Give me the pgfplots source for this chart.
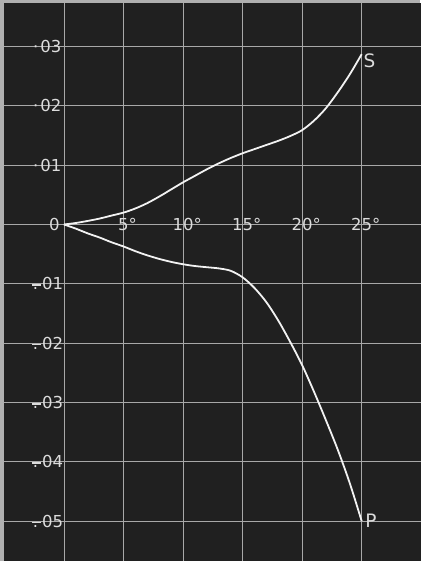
\documentclass[border=0pt]{standalone}
\usepackage{fontspec}
\setmainfont{DejaVu Sans}
\usepackage{pgfplots}
\pgfplotsset{compat=1.18}
\definecolor{bg}{HTML}{202020}
\definecolor{gridc}{HTML}{A8A8A8}
\definecolor{curvec}{HTML}{F2F2F2}
\definecolor{framec}{HTML}{B0B0B0}
\definecolor{labc}{HTML}{DCDCDC}
\newcommand{\neglab}[1]{\rlap{\rule[4.0pt]{9.5pt}{1.6pt}}\kern1pt.\kern4pt #1}
\begin{document}
\begin{tikzpicture}
\fill[framec] (0,0) rectangle (420pt,561pt);
\begin{axis}[
  at={(4pt,0pt)}, anchor=south west,
  scale only axis, width=420pt, height=558pt,
  xmin=-5.03, xmax=30.23, ymin=-0.0567, ymax=0.03732,
  axis background/.style={fill=bg},
  axis line style={draw=none},
  xtick={0,5,10,15,20,25},
  ytick={-0.05,-0.04,-0.03,-0.02,-0.01,0,0.01,0.02,0.03},
  xticklabels={}, yticklabels={},
  scaled y ticks=false, scaled x ticks=false,
  major tick length=0pt,
  grid=major, major grid style={gridc, line width=0.8pt},
]
% upper curve S
\addplot[curvec, line width=1.8pt, smooth, line join=round] coordinates {
 (0,0) (1,0.00025) (2,0.0006) (3,0.0010) (4,0.0015) (5,0.0020) (6,0.0027)
 (7,0.0036) (8,0.0047) (9,0.0059) (10,0.0071) (11,0.0082) (12,0.0093)
 (13,0.0103) (14,0.0112) (15,0.0120) (16,0.0127) (17,0.0134) (18,0.0141)
 (19,0.0149) (20,0.0159) (21,0.0175) (22,0.0196) (23,0.0223) (24,0.0253)
 (25,0.0287)};
% lower curve P
\addplot[curvec, line width=1.8pt, smooth, line join=round] coordinates {
 (0,0) (1,-0.0007) (2,-0.0015) (3,-0.0022) (4,-0.0030) (5,-0.0037)
 (6,-0.0045) (7,-0.0052) (8,-0.0058) (9,-0.0063) (10,-0.0067) (11,-0.0070)
 (12,-0.0072) (13,-0.0074) (14,-0.0078) (15,-0.0089) (16,-0.0107)
 (17,-0.0131) (18,-0.0162) (19,-0.0198) (20,-0.0237) (21,-0.0282)
 (22,-0.0330) (23,-0.0380) (24,-0.0436) (25,-0.0500)};
% y tick labels
\begin{scope}[font=\fontsize{16.5}{18}\selectfont, text=labc, inner sep=0pt]
\node[anchor=east] at (axis cs:-0.2,0.03) {·\kern2pt 03};
\node[anchor=east] at (axis cs:-0.2,0.02) {·\kern2pt 02};
\node[anchor=east] at (axis cs:-0.2,0.01) {·\kern2pt 01};
\node[anchor=east] at (axis cs:-0.35,0) {0};
\node[anchor=east] at (axis cs:-0.05,-0.01) {\neglab{01}};
\node[anchor=east] at (axis cs:-0.05,-0.02) {\neglab{02}};
\node[anchor=east] at (axis cs:-0.05,-0.03) {\neglab{03}};
\node[anchor=east] at (axis cs:-0.05,-0.04) {\neglab{04}};
\node[anchor=east] at (axis cs:-0.05,-0.05) {\neglab{05}};
% x tick labels
\node[anchor=center] at (axis cs:5,0) {5\rlap{°}};
\node[anchor=center] at (axis cs:10,0) {10\rlap{°}};
\node[anchor=center] at (axis cs:15,0) {15\rlap{°}};
\node[anchor=center] at (axis cs:20,0) {20\rlap{°}};
\node[anchor=center] at (axis cs:25,0) {25\rlap{°}};
\end{scope}
\node[anchor=west, font=\fontsize{18.5}{20}\selectfont, text=labc, inner sep=0pt] at (axis cs:25.15,0.0276) {S};
\node[anchor=west, font=\fontsize{18.5}{20}\selectfont, text=labc, inner sep=0pt] at (axis cs:25.3,-0.05) {P};
\end{axis}
\pgfresetboundingbox
\useasboundingbox (0,0) rectangle (420pt,561pt);
\end{tikzpicture}
\end{document}
